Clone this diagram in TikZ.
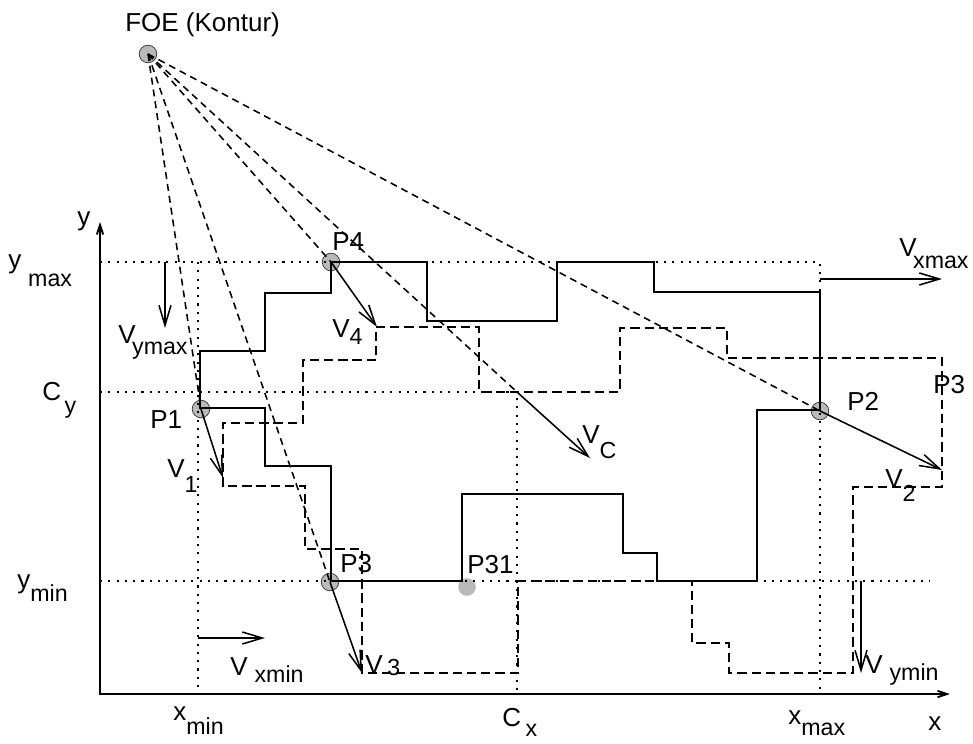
\documentclass[tikz,border=0pt]{standalone}
\usepackage{fontspec}
\setmainfont{Liberation Sans}
\usetikzlibrary{arrows.meta}

\newcommand{\vsub}[3][0.5em]{#2\raisebox{-#1}{\fontsize{16.5}{18}\selectfont #3}}

\begin{document}
\begin{tikzpicture}[x=0.25mm,y=-0.25mm,
	font=\fontsize{18.5}{21}\selectfont,
	>={Straight Barb[length=5mm,width=3mm]},
	lbl/.style={anchor=base west,inner sep=0pt},
	dot/.style={circle,fill=gray!55,draw=gray!40!black,line width=0.5pt,minimum size=4.4mm,inner sep=0pt},
	axis/.style={line width=1.3pt,{Straight Barb[length=2.4mm,width=1.6mm]}-{Straight Barb[length=2.4mm,width=1.6mm]}},
	bbox/.style={line width=1.2pt,dash pattern=on 1.5pt off 4.4pt},
	contour/.style={line width=1.8pt,line join=miter},
	shifted/.style={line width=1.5pt,dash pattern=on 6.6pt off 3.5pt},
	ray/.style={line width=1.1pt,dash pattern=on 5pt off 3.5pt},
	vel/.style={line width=1.1pt,->}]
\useasboundingbox (0,0) rectangle (973,744);

\node[dot] (FOE) at (148,54) {}; % focus of expansion
\node[dot] (P4) at (331,262) {}; 
\node[dot] (P1) at (201,409) {}; 
\node[dot] (P2) at (820,411) {}; 
\node[dot] (P3) at (330,582) {}; 
\node[dot,draw=none] (P31) at (467,587) {}; 
\coordinate (C) at (517,392); % centre

% axes
\coordinate (O) at (100,694);
\coordinate (ytip) at (100,222);
\coordinate (xtip) at (950,694);
\draw[axis] (ytip) -- (O) -- (xtip);

% xmin, xmax, ymin, ymax, Cx, Cy
\draw[bbox] (100,262) -- (820,262) -- (820,694); % ymax / xmax
\draw[bbox] (198,262) -- (198,694); % xmin
\draw[bbox] (100,581) -- (930,581); % ymin
\draw[bbox] (100,392) -- (C) -- (517,694); % Cy / Cx

% contour
\draw[contour] (200,351) -- (265,351) -- (265,293) -- (331,293) -- (331,262)
	-- (427,262) -- (427,321) -- (557,321) -- (557,262) -- (654,262) -- (654,292)
	-- (820,292) -- (820,410) -- (757,410) -- (757,581) -- (657,581) -- (657,553)
	-- (623,553) -- (623,494) -- (462,494) -- (462,581) -- (331,581) -- (331,466)
	-- (265,466) -- (265,408) -- (200,408) -- cycle;

% contour after motion
\draw[shifted] (376,327) -- (479,327) -- (479,392) -- (620,392) -- (620,328)
	-- (727,328) -- (727,358) -- (942,358) -- (942,487) -- (853,487) -- (853,673)
	-- (729,673) -- (729,643) -- (692,643) -- (692,581) -- (518,581) -- (518,673)
	-- (362,673) -- (362,549) -- (305,549) -- (305,486) -- (223,486) -- (223,423)
	-- (303,423) -- (303,360) -- (376,360) -- cycle;

% rays from FOE
\draw[ray] (FOE.center) -- (P1.center);
\draw[ray] (FOE.center) -- (P3.center);
\draw[ray] (FOE.center) -- (P4.center);
\draw[ray] (FOE.center) -- (C);
\draw[ray] (FOE.center) -- (P2.center);

% velocities
\coordinate (v4) at (377,327);
\coordinate (v1) at (223,478);
\coordinate (v3) at (362,673);
\coordinate (v2) at (942,470);
\coordinate (vc) at (590,458);
\draw[vel] (P4.center) -- (v4);
\draw[vel] (P1.center) -- (v1);
\draw[vel] (P3.center) -- (v3);
\draw[vel] (P2.center) -- (v2);
\draw[vel] (C) -- (vc);

\coordinate (vymax0) at (165,262);
\coordinate (vymax1) at (165,328);
\coordinate (vxmin0) at (198,638);
\coordinate (vxmin1) at (265,638);
\coordinate (vxmax0) at (820,279);
\coordinate (vxmax1) at (942,279);
\coordinate (vymin0) at (861,581);
\coordinate (vymin1) at (861,673);
\draw[vel] (vymax0) -- (vymax1);
\draw[vel] (vxmin0) -- (vxmin1);
\draw[vel] (vxmax0) -- (vxmax1);
\draw[vel] (vymin0) -- (vymin1);

% labels
\node[lbl] (l-foe) at (125,32) {FOE (Kontur)};
\node[lbl] (l-y) at (77,226) {y};
\node[lbl] (l-x) at (928,730) {x};
\node[lbl] (l-ymax) at (8,268) {\vsub[0.7em]{y}{\kern0.3em max}};
\node[lbl] (l-cy) at (42,400) {\vsub{C}{\kern0.15em y}};
\node[lbl] (l-ymin) at (17,588) {\vsub{y}{min}};
\node[lbl] (l-xmin) at (173,720) {\vsub[0.55em]{x}{min}};
\node[lbl] (l-cx) at (502,726) {\vsub[0.4em]{C}{\kern0.2em x}};
\node[lbl] (l-xmax) at (788,724) {\vsub[0.46em]{x}{max}};
\node[lbl] (l-vymax) at (118,343) {\vsub[0.46em]{V}{\kern-0.15em ymax}};
\node[lbl] (l-v1) at (167,477) {\vsub[0.6em]{V}{1}};
\node[lbl] (l-p1) at (150,428) {P1};
\node[lbl] (l-p4) at (332,250) {P4};
\node[lbl] (l-v4) at (332,337) {\vsub[0.3em]{V}{4}};
\node[lbl] (l-vc) at (582,443) {\vsub[0.6em]{V}{C}};
\node[lbl] (l-p2) at (847,410) {P2};
\node[lbl] (l-p3r) at (933,393) {P3};
\node[lbl] (l-v2) at (885,487) {\vsub[0.55em]{V}{2}};
\node[lbl] (l-vxmax) at (899,257) {\vsub[0.46em]{V}{\kern-0.15em xmax}};
\node[lbl] (l-p3) at (340,572) {P3};
\node[lbl] (l-p31) at (467,573) {P31};
\node[lbl] (l-v3) at (365,673) {\vsub[0.1em]{V}{\kern0.2em 3}};
\node[lbl] (l-vxmin) at (230,675) {\vsub[0.3em]{V}{\kern0.3em xmin}};
\node[lbl] (l-vymin) at (865,673) {\vsub[0.3em]{V}{\kern0.3em ymin}};
\end{tikzpicture}
\end{document}
